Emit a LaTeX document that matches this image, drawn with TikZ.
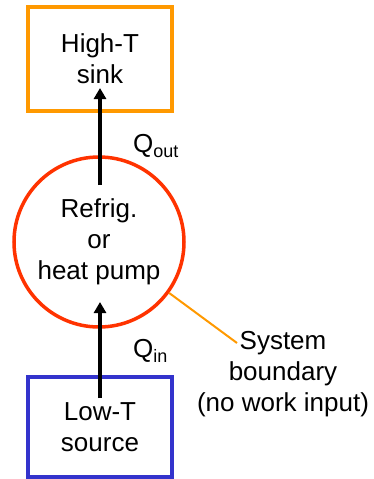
\documentclass[tikz,border=0pt]{standalone}
\usepackage{fontspec}
\setmainfont{Liberation Sans}
\usetikzlibrary{arrows.meta}
\definecolor{sinkorange}{HTML}{FF9900}
\definecolor{pumpred}{HTML}{FF3300}
\definecolor{sourceblue}{HTML}{3333CC}
\begin{document}
\begin{tikzpicture}[x=1pt,y=-1pt,
  txt/.style={font=\fontsize{26}{31}\selectfont, align=center},
  reservoir/.style={txt, line width=4pt, minimum width=144pt, minimum height=104pt, inner sep=0pt},
  heat/.style={line width=4pt, -{Triangle[length=11pt,width=12pt]}},
]
\useasboundingbox (0,0) rectangle (373,479);
\node[reservoir, draw=sinkorange, minimum height=104pt] (sink) at (100,59) {High-T\\sink};
\node[reservoir, draw=sourceblue, minimum height=100pt] (source) at (100,427) {Low-T\\source};
\node[txt, circle, draw=pumpred, line width=3.5pt, minimum size=170pt, inner sep=0pt] (pump) at (99,242) {Refrig.\\or\\heat pump};
\coordinate (outstart) at (100,185);
\coordinate (outend) at (100,88);
\coordinate (instart) at (100,398);
\coordinate (inend) at (100,302);
\draw[heat] (outstart) -- (outend);
\draw[heat] (instart) -- (inend);
\node[anchor=base west, inner sep=0pt, font=\fontsize{26}{31}\selectfont] (qout) at (133,152) {Q\raisebox{-5pt}{\fontsize{18}{18}\selectfont out}};
\node[anchor=base west, inner sep=0pt, font=\fontsize{26}{31}\selectfont] (qin) at (133,357) {Q\raisebox{-5pt}{\fontsize{18}{18}\selectfont in}};
\node[txt, inner sep=0pt] (boundary) at (283,374) {System\\boundary\\(no work input)};
\coordinate (leader) at (237,343);
\draw[sinkorange, line width=2pt] (pump.-36) -- (leader);
\end{tikzpicture}
\end{document}
